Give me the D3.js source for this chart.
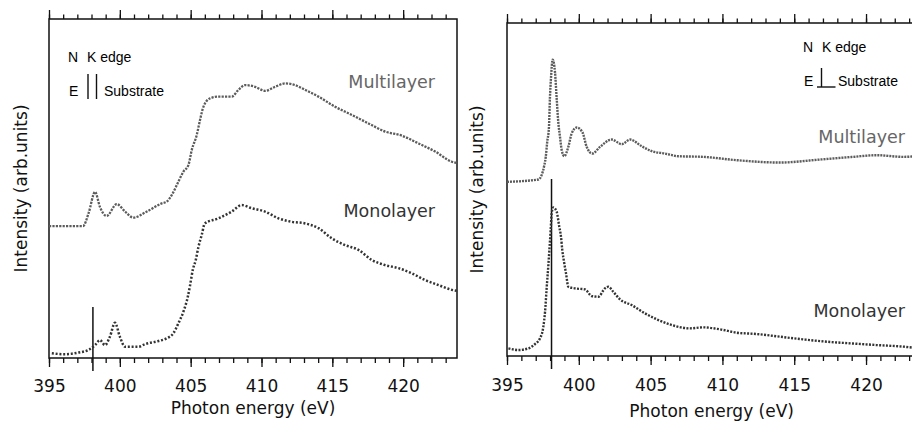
<!DOCTYPE html>
<html>
<head>
<meta charset="utf-8">
<script src="https://cdn.jsdelivr.net/npm/d3@7"></script>
<style>
  body { margin: 0; background: #fff; }
  svg { display: block; }
  .axis-title, .tick text { font-family: "DejaVu Sans", Verdana, sans-serif; }
  .legend text { font-family: "Liberation Sans", Arial, sans-serif; font-size: 14px; }
</style>
</head>
<body>
<div id="chart"></div>
<script>
// Photon energy (eV) and intensity (arb. units, 0-100 of plot height)

// left panel
const leftMultiEnergy = [395.0, 397.4, 397.8, 398.25, 398.6, 399.07, 399.78, 400.37, 400.95, 401.78,
  402.96, 403.3, 403.67, 404.13, 404.49, 404.84, 405.08, 405.43, 405.66, 405.9, 406.37, 406.96,
  407.9, 408.37, 408.84, 409.55, 410.25, 410.96, 411.67, 412.37, 413.08, 414.02, 415.2, 416.38,
  417.55, 418.73, 419.9, 421.08, 422.26, 423.44, 423.8];
const leftMulti = [38.9, 38.9, 42.8, 49.0, 44.5, 41.9, 45.4, 43.2, 41.4, 42.9,
  45.6, 46.1, 48.1, 52.0, 55.0, 56.9, 61.4, 65.8, 70.2, 74.1, 76.6, 77.1,
  77.1, 79.1, 80.5, 80.0, 78.8, 80.0, 81.0, 80.5, 79.1, 77.1, 74.1, 71.7,
  69.2, 66.8, 65.6, 63.3, 60.9, 57.9, 57.5];

const leftMonoEnergy = [395.2, 396.13, 397.07, 397.8, 398.25, 398.6, 398.95, 399.3, 399.66, 400.0,
  400.37, 401.3, 401.78, 402.72, 403.3, 403.78, 404.13, 404.49, 404.8, 404.96, 405.15, 405.36,
  405.55, 405.78, 406.0, 406.96, 407.9, 408.6, 409.3, 410.25, 411.2, 412.1, 413.08, 414.02,
  414.96, 415.9, 416.84, 417.79, 418.73, 419.67, 420.6, 421.55, 422.5, 423.44, 423.8];
const leftMono = [1.4, 1.1, 1.6, 2.4, 3.8, 5.3, 3.8, 6.3, 10.4, 6.3,
  3.3, 3.3, 4.1, 5.0, 5.8, 7.3, 10.2, 13.7, 18.1, 21.5, 26.0, 28.9,
  32.8, 36.3, 39.7, 41.2, 43.2, 45.1, 44.2, 43.2, 41.2, 40.2, 39.7, 38.3,
  35.3, 33.3, 31.9, 28.9, 27.4, 26.5, 25.0, 23.0, 21.5, 20.1, 19.8];

// right panel
const rightMultiEnergy = [395.0, 397.18, 397.41, 397.6, 397.7, 397.8, 397.92, 397.99, 398.06, 398.18,
  398.34, 398.46, 398.57, 398.69, 398.81, 398.99, 399.27, 399.5, 399.85, 400.24, 400.55, 400.94,
  401.48, 402.29, 402.99, 403.57, 404.38, 405.08, 406.0, 406.93, 408.67, 411.0, 414.0, 416.8,
  419.1, 420.7, 422.6, 423.5];
const rightMulti = [52.3, 53.0, 54.3, 57.3, 59.8, 64.3, 68.6, 77.6, 83.3, 89.0,
  85.3, 77.3, 70.3, 65.8, 61.8, 60.0, 62.8, 66.8, 68.6, 67.3, 62.8, 60.8,
  62.8, 65.0, 63.6, 65.0, 63.0, 61.5, 60.8, 60.0, 59.8, 58.8, 58.1, 59.0,
  59.8, 60.3, 59.8, 60.0];

const rightMonoEnergy = [395.1, 395.8, 396.5, 396.95, 397.3, 397.53, 397.65, 397.76, 397.88, 397.95,
  398.04, 398.11, 398.22, 398.46, 398.64, 398.76, 398.85, 398.97, 399.11, 399.27, 399.74, 400.43,
  400.9, 401.36, 401.82, 402.06, 402.4, 402.87, 403.68, 404.61, 405.54, 406.47, 407.74, 408.67,
  409.83, 411.0, 412.39, 414.0, 415.6, 417.26, 418.9, 420.7, 422.6, 423.5];
const rightMono = [2.3, 1.8, 2.3, 3.6, 5.3, 8.8, 13.3, 20.3, 27.3, 31.8,
  37.8, 42.8, 44.6, 43.3, 38.8, 35.8, 31.8, 28.3, 24.8, 20.8, 20.3, 20.0,
  18.0, 17.8, 20.3, 20.8, 19.3, 17.0, 15.3, 12.8, 10.8, 9.3, 8.3, 8.6,
  8.0, 7.0, 6.6, 5.8, 5.0, 4.3, 3.8, 3.3, 2.8, 2.4];

const majorTicks = [395, 400, 405, 410, 415, 420];
const minorTicks = d3.range(395, 424, 1);
const edgeEnergy = 398.1;

const width = 912, height = 422;

const svg = d3.select('#chart').append('svg')
    .attr('width', width)
    .attr('height', height);

const panels = [
  {
    left: 49, right: 457, top: 19, bottom: 358, xMax: 423.8, yLabelX: 27,
    labelPad: 12.5, titleY: 413.5, edgeTop: 307,
    series: [
      { x: leftMultiEnergy, y: leftMulti, color: '#5c5c5c', dash: '2.2,1.2', width: 2.3 },
      { x: leftMonoEnergy, y: leftMono, color: '#333', dash: '2,1.8', width: 2.5 }
    ],
    labels: [
      { text: 'Multilayer', x: 435, y: 88, color: '#666' },
      { text: 'Monolayer', x: 435, y: 217, color: '#333' }
    ]
  },
  {
    left: 507, right: 916.3, top: 23, bottom: 356, xMax: 423.5, yLabelX: 483,
    labelPad: 14, titleY: 417, edgeTop: 179,
    series: [
      { x: rightMultiEnergy, y: rightMulti, color: '#5c5c5c', dash: '2,1', width: 2.4 },
      { x: rightMonoEnergy, y: rightMono, color: '#333', dash: '2,1.4', width: 2.4 }
    ],
    labels: [
      { text: 'Multilayer', x: 905, y: 143, color: '#666' },
      { text: 'Monolayer', x: 905, y: 317, color: '#333' }
    ]
  }
];

panels.forEach(p => {
  const x = d3.scaleLinear().domain([395, p.xMax]).range([p.left, p.right]);
  const y = d3.scaleLinear().domain([0, 100]).range([p.bottom, p.top]);

  const g = svg.append('g');

  // frame
  g.append('rect')
      .attr('x', p.left)
      .attr('y', p.top)
      .attr('width', p.right - p.left)
      .attr('height', p.bottom - p.top)
      .attr('fill', 'none')
      .attr('stroke', '#111')
      .attr('stroke-width', 1.5);

  // bottom axis: minor + major with labels
  g.append('g')
      .attr('transform', `translate(0,${p.bottom})`)
      .call(d3.axisBottom(x).tickValues(minorTicks).tickSize(5).tickFormat(''))
      .call(a => a.select('.domain').remove());
  g.append('g')
      .attr('transform', `translate(0,${p.bottom})`)
      .call(d3.axisBottom(x).tickValues(majorTicks).tickSize(9).tickPadding(p.labelPad).tickFormat(d3.format('d')))
      .call(a => a.select('.domain').remove())
      .call(a => a.selectAll('text').attr('font-size', 17).attr('fill', '#111'));

  // top axis: ticks only
  g.append('g')
      .attr('transform', `translate(0,${p.top})`)
      .call(d3.axisTop(x).tickValues(minorTicks).tickSize(4.5).tickFormat(''))
      .call(a => a.select('.domain').remove());
  g.append('g')
      .attr('transform', `translate(0,${p.top})`)
      .call(d3.axisTop(x).tickValues(majorTicks).tickSize(9).tickFormat(''))
      .call(a => a.select('.domain').remove());

  g.selectAll('.tick line').attr('stroke', '#111').attr('stroke-width', 1.3);

  // axis titles
  g.append('text')
      .attr('class', 'axis-title')
      .attr('x', (p.left + p.right) / 2)
      .attr('y', p.titleY)
      .attr('text-anchor', 'middle')
      .attr('font-size', 17)
      .attr('fill', '#111')
      .text('Photon energy (eV)');

  g.append('text')
      .attr('class', 'axis-title')
      .attr('transform', `translate(${p.yLabelX},${(p.top + p.bottom) / 2}) rotate(-90)`)
      .attr('text-anchor', 'middle')
      .attr('font-size', 17)
      .attr('fill', '#111')
      .text('Intensity (arb.units)');

  // N K edge marker line
  g.append('line')
      .attr('x1', x(edgeEnergy)).attr('x2', x(edgeEnergy))
      .attr('y1', p.edgeTop).attr('y2', p.bottom + 13)
      .attr('stroke', '#111')
      .attr('stroke-width', 1.5);

  // spectra
  const line = d3.line()
      .x(d => d[0])
      .y(d => d[1])
      .curve(d3.curveMonotoneX);

  p.series.forEach(s => {
    const pts = s.x.map((e, i) => [x(e), y(s.y[i])]);
    g.append('path')
        .attr('d', line(pts))
        .attr('fill', 'none')
        .attr('stroke', s.color)
        .attr('stroke-width', s.width)
        .attr('stroke-dasharray', s.dash);
  });

  // series labels
  g.selectAll('.series-label')
      .data(p.labels)
    .join('text')
      .attr('class', 'series-label axis-title')
      .attr('x', d => d.x)
      .attr('y', d => d.y)
      .attr('text-anchor', 'end')
      .attr('font-size', 17.5)
      .attr('fill', d => d.color)
      .text(d => d.text);
});

// legends
const legL = svg.append('g').attr('class', 'legend');
legL.append('text').attr('x', 68).attr('y', 62).text('N');
legL.append('text').attr('x', 87).attr('y', 62).text('K edge');
legL.append('text').attr('x', 69).attr('y', 96).text('E');
legL.append('line').attr('x1', 88).attr('x2', 88).attr('y1', 74).attr('y2', 99)
    .attr('stroke', '#111').attr('stroke-width', 1.4);
legL.append('line').attr('x1', 96.5).attr('x2', 96.5).attr('y1', 74).attr('y2', 99)
    .attr('stroke', '#111').attr('stroke-width', 1.4);
legL.append('text').attr('x', 104).attr('y', 96).text('Substrate');

const legR = svg.append('g').attr('class', 'legend');
legR.append('text').attr('x', 803).attr('y', 52).text('N');
legR.append('text').attr('x', 822).attr('y', 52).text('K edge');
legR.append('text').attr('x', 804).attr('y', 86).text('E');
legR.append('line').attr('x1', 821.5).attr('x2', 821.5).attr('y1', 68).attr('y2', 87)
    .attr('stroke', '#111').attr('stroke-width', 1.4);
legR.append('line').attr('x1', 817).attr('x2', 835.5).attr('y1', 87).attr('y2', 87)
    .attr('stroke', '#111').attr('stroke-width', 1.4);
legR.append('text').attr('x', 838).attr('y', 86).text('Substrate');
</script>
</body>
</html>
